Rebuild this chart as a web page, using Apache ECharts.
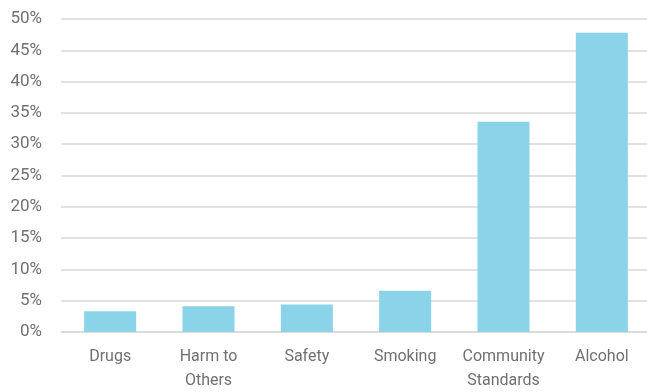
<!DOCTYPE html>
<html><head><meta charset="utf-8">
<script src="https://cdn.jsdelivr.net/npm/echarts@6/dist/echarts.min.js"></script>
<style>html,body{margin:0;padding:0;background:#fff}#c{width:647px;height:392px}</style>
</head><body><div id="c"></div>
<script>
const categories = ['Drugs', 'Harm to\nOthers', 'Safety', 'Smoking', 'Community\nStandards', 'Alcohol'];
const values = [3.3, 4.1, 4.4, 6.6, 33.6, 47.8];
const yTicks = {min: 0, max: 50, interval: 5};
const font = "Roboto, 'Liberation Sans', sans-serif";
const chart = echarts.init(document.getElementById('c'));
chart.setOption({
  animation: false,
  grid: {left: 61, top: 19, width: 590, height: 313, containLabel: false, outerBoundsMode: 'none'},
  xAxis: {
    type: 'category', data: categories,
    axisLine: {lineStyle: {color: '#d9d9d9', width: 1.5}},
    axisTick: {show: false},
    axisLabel: {color: '#707070', fontFamily: font, fontSize: 16, lineHeight: 24, margin: 13, interval: 0}
  },
  yAxis: {
    type: 'value', min: yTicks.min, max: yTicks.max, interval: yTicks.interval,
    axisLine: {show: false}, axisTick: {show: false},
    splitLine: {lineStyle: {color: '#d9d9d9', width: 1.5}},
    axisLabel: {color: '#707070', fontFamily: font, fontSize: 17, margin: 19, formatter: v => v + '%'}
  },
  series: [{type: 'bar', data: values, barWidth: 52, itemStyle: {color: '#8BD3E8'}}]
});
</script></body></html>
